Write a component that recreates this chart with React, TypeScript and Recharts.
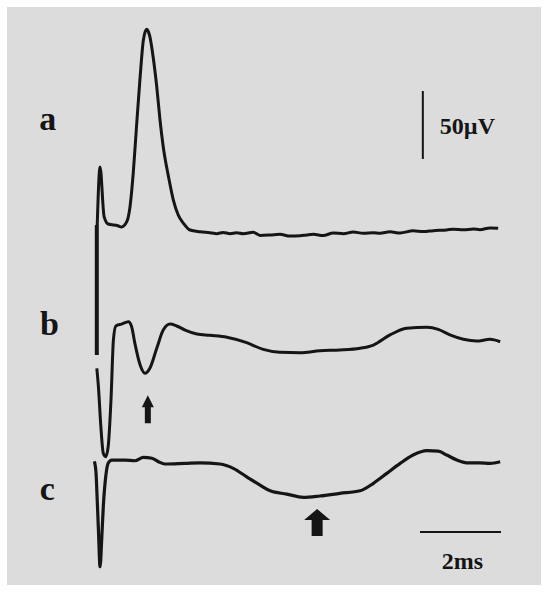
import { ComposedChart, Line, Scatter, XAxis, YAxis, ReferenceLine, ReferenceDot } from "recharts";

// time in ms after stimulus, amplitude in µV relative to each trace's own baseline
const TRACE_A: [number, number][] = [
  [0.03, 5], [0.1, 47.8], [0.2, 11.3], [0.3, 5.9], [0.54, 4.6], [0.63, 3.7], [0.76, 7.6],
  [0.84, 18.6], [0.92, 43.4], [1.0, 77.4], [1.09, 114.2], [1.17, 141.2], [1.25, 149],
  [1.33, 143.6], [1.41, 128.9], [1.5, 106.8], [1.58, 82.4], [1.66, 62.7], [1.79, 40.7],
  [1.91, 23.5], [2.03, 12.5], [2.16, 6.4], [2.32, 1.5], [2.57, 0.2], [2.81, -0.5],
  [2.98, -1.2], [3.14, -0.3], [3.31, -1.2], [3.47, -0.6], [3.64, -1.3], [3.88, -0.2],
  [4.05, -2.5], [4.3, -2.2], [4.54, -1.7], [4.79, -3.0], [5.04, -2.8], [5.2, -2.2],
  [5.37, -1.7], [5.61, -2.6], [5.86, -0.7], [6.11, -1.3], [6.35, 0], [6.6, -0.9],
  [6.85, -0.5], [7.01, -0.9], [7.26, 0.1], [7.51, -0.7], [7.83, 0.9], [8.08, 0.3],
  [8.33, 1.0], [8.66, 1.5], [8.82, 2.1], [9.07, 1.6], [9.32, 2.2], [9.48, 1.7],
  [9.73, 3.0], [9.93, 2.7],
];

const TRACE_B: [number, number][] = [
  [0.02, -13.2], [0.06, -26.8], [0.12, -56.2], [0.18, -75.7], [0.24, -78.2], [0.3, -70.9],
  [0.37, -36.5], [0.43, 7.6], [0.49, 17.9], [0.63, 19.3], [0.8, 21], [0.88, 17.4],
  [0.96, 5.1], [1.09, -10.8], [1.21, -16.9], [1.33, -13.2], [1.5, 1.5], [1.66, 14.9],
  [1.83, 19.3], [1.99, 17.9], [2.2, 14.9], [2.49, 12], [2.81, 11], [3.23, 9.6],
  [3.72, 5.6], [4.13, 0.7], [4.54, -1.5], [5.04, -1.8], [5.53, -0.3], [6.02, 0.2],
  [6.52, 1.5], [6.85, 3.9], [7.26, 11.3], [7.67, 16.2], [8.17, 16.9], [8.45, 15.4],
  [8.74, 11.3], [9.07, 8.1], [9.4, 6.8], [9.73, 8.1], [9.98, 6.3],
];

const TRACE_C: [number, number][] = [
  [-0.04, 0.3], [0.0, -8], [0.03, -28], [0.06, -50], [0.1, -77.1], [0.14, -57.5], [0.18, -33],
  [0.24, -11], [0.3, -1.1], [0.39, 1.3], [0.72, 1.3], [0.96, 0.8], [1.17, 3.3],
  [1.38, 2.6], [1.54, 0.1], [1.7, -1.6], [2.2, -1.1], [2.57, -0.7], [3.06, -1.6],
  [3.39, -4.8], [3.72, -11], [4.05, -17.1], [4.3, -21.3], [4.71, -23.7], [5.12, -26.1],
  [5.53, -25.1], [6.02, -23.2], [6.52, -21.3], [6.85, -15.8], [7.18, -8.5], [7.51, -1.1],
  [7.83, 5], [8.17, 8.2], [8.45, 7.9], [8.66, 5], [8.91, 1.3], [9.15, -0.7],
  [9.48, -0.7], [9.73, -1.1], [9.98, 0.1],
];

// stimulus artifact (in trace a units)
const ARTIFACT: [number, number][] = [[0.02, 5.1], [0.02, -90.4]];

// vertical offsets of the three sweeps, µV
const OFFSET_A = 0;
const OFFSET_B = -87;
const OFFSET_C = -169;

// arrows: [t, amplitude at tip relative to its trace]
const ARROWS_B: [number, number][] = [[1.28, -33]];
const ARROWS_C: [number, number][] = [[5.46, -34.7]];

// calibration bars
const CAL_UV = 50;
const CAL_MS = 2;

const W = 550;
const H = 596;
const PX_PER_MS = 40.5;
const PX_PER_UV = 1.36;
const T0_PX = 96;
const BASE_A_PX = 232;
const X_DOMAIN = [-T0_PX / PX_PER_MS, (W - T0_PX) / PX_PER_MS];
const Y_DOMAIN = [-(H - BASE_A_PX) / PX_PER_UV, BASE_A_PX / PX_PER_UV];

const rows = (pts: [number, number][], off: number) => pts.map(([t, v]) => ({ t, v: v + off }));

const INK = "#151515";
const SERIF = "Liberation Serif, Times New Roman, serif";

const arrowShape = (headW: number, headH: number, shaftW: number, len: number) => (p: any) => {
  const { cx, cy } = p;
  const pts = [
    [cx, cy],
    [cx + headW / 2, cy + headH],
    [cx + shaftW / 2, cy + headH],
    [cx + shaftW / 2, cy + len],
    [cx - shaftW / 2, cy + len],
    [cx - shaftW / 2, cy + headH],
    [cx - headW / 2, cy + headH],
  ];
  return <polygon points={pts.map((q) => q.join(",")).join(" ")} fill={INK} />;
};

const textShape = (txt: string, size: number, anchor: string) => (p: any) => (
  <text
    x={p.cx}
    y={p.cy}
    style={{ fontFamily: SERIF, fontWeight: 700, fontSize: size }}
    textAnchor={anchor}
    fill={INK}
  >
    {txt}
  </text>
);

export default function App() {
  const calX = 8.07;
  const calY = 53.7;
  const msY = -220.6;
  const msX = 8.0;

  const lineProps = {
    dataKey: "v",
    stroke: INK,
    dot: false,
    activeDot: false,
    isAnimationActive: false,
    strokeLinejoin: "round" as const,
  };

  return (
    <div style={{ position: "absolute", left: 0, top: 0, width: W, height: H, background: "#fff" }}>
      <div style={{ position: "absolute", left: 7, top: 7, width: 534, height: 578, background: "#dcdcdc" }} />
      <div style={{ position: "absolute", left: 0, top: 0 }}>
        <ComposedChart width={W} height={H} margin={{ top: 0, right: 0, bottom: 0, left: 0 }}>
          <XAxis type="number" dataKey="t" domain={X_DOMAIN} allowDataOverflow hide />
          <YAxis type="number" dataKey="v" domain={Y_DOMAIN} allowDataOverflow hide />

          <Line {...lineProps} data={rows(ARTIFACT, OFFSET_A)} type="linear" strokeWidth={4} />
          <Line {...lineProps} data={rows(TRACE_A, OFFSET_A)} type="monotone" strokeWidth={3} />
          <Line {...lineProps} data={rows(TRACE_B, OFFSET_B)} type="monotone" strokeWidth={3} />
          <Line {...lineProps} data={rows(TRACE_C, OFFSET_C)} type="monotone" strokeWidth={3.2} />

          <Scatter data={rows(ARROWS_B, OFFSET_B)} dataKey="v" shape={arrowShape(12, 12, 6, 28)} isAnimationActive={false} />
          <Scatter data={rows(ARROWS_C, OFFSET_C)} dataKey="v" shape={arrowShape(26, 11, 11, 27)} isAnimationActive={false} />

          <ReferenceLine segment={[{ x: calX, y: calY }, { x: calX, y: calY + CAL_UV }]} stroke={INK} strokeWidth={2} />
          <ReferenceLine segment={[{ x: msX, y: msY }, { x: msX + CAL_MS, y: msY }]} stroke={INK} strokeWidth={2} />

          <ReferenceDot x={-1.4} y={75} r={0} shape={textShape("a", 34, "start")} />
          <ReferenceDot x={-1.38} y={-75.7} r={0} shape={textShape("b", 34, "start")} />
          <ReferenceDot x={-1.39} y={-197.1} r={0} shape={textShape("c", 34, "start")} />
          <ReferenceDot x={8.49} y={72.1} r={0} shape={textShape("50µV", 24, "start")} />
          <ReferenceDot x={9.05} y={-247.6} r={0} shape={textShape("2ms", 24, "middle")} />
        </ComposedChart>
      </div>
    </div>
  );
}
